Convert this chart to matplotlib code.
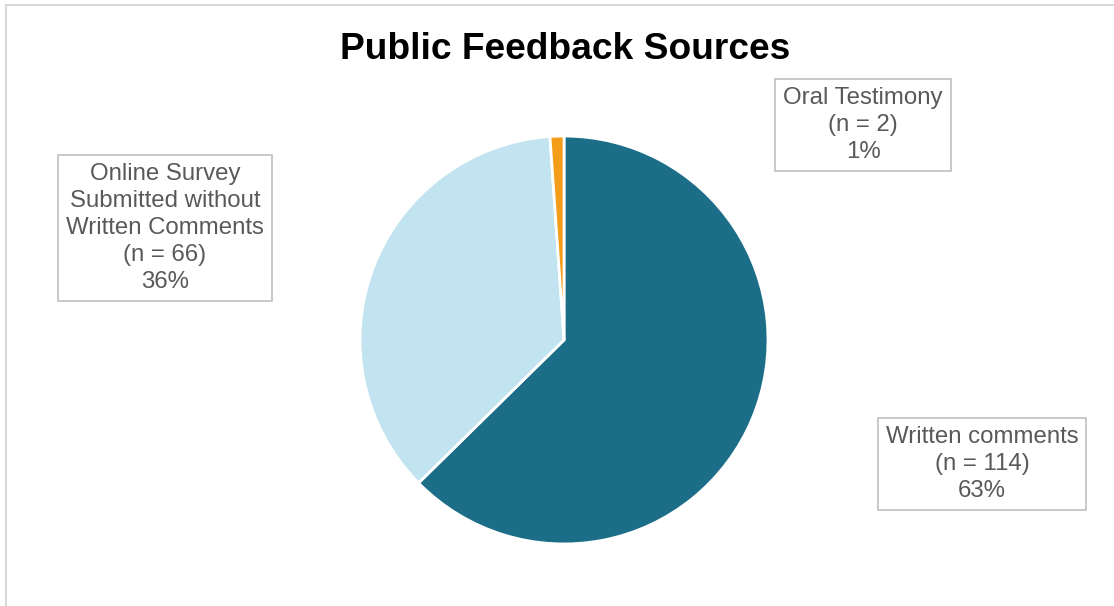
import matplotlib.pyplot as plt
from matplotlib.lines import Line2D

# Data --------------------------------------------------------------------------------------
sources = ["Written comments", "Online Survey\nSubmitted without\nWritten Comments", "Oral Testimony"]
counts = [114, 66, 2]
colors = ["#1c6d87", "#c2e4f0", "#f49d1b"]
# label positions (data coords, pie radius = 1)
label_pos = [(2.049, -0.608), (-1.956, 0.549), (1.466, 1.054)]

plt.rcParams['font.family'] = ['Liberation Sans', 'DejaVu Sans']

fig = plt.figure(figsize=(11.14, 6.06), dpi=100)
ax = fig.add_axes([0.3232, 0.1023, 0.3662, 0.6733])

ax.pie(counts,
       colors=colors,
       startangle=90,
       counterclock=False,
       radius=1,
       wedgeprops={'edgecolor': 'white', 'linewidth': 2})
ax.set_xlim(-1, 1)
ax.set_ylim(-1, 1)
ax.set_aspect('equal')
ax.axis('off')

total = sum(counts)
for name, n, (x, y) in zip(sources, counts, label_pos):
    pct = round(100 * n / total)
    ax.text(x, y, "%s\n(n = %d)\n%d%%" % (name, n, pct),
            ha='center', va='center', fontsize=17.3, color='#595959',
            linespacing=1.3, clip_on=False,
            bbox=dict(boxstyle='square,pad=0.33', facecolor='white',
                      edgecolor='#bfbfbf', linewidth=1.2))

fig.text(565 / 1114, 1 - 59 / 606, "Public Feedback Sources",
         ha='center', va='baseline', fontsize=26.7, fontweight='bold', color='black')

# chart area border (top and left edges visible)
fig.add_artist(Line2D([6 / 1114, 1], [1 - 5 / 606, 1 - 5 / 606], color='#d9d9d9', linewidth=1.5))
fig.add_artist(Line2D([6 / 1114, 6 / 1114], [0, 1 - 5 / 606], color='#d9d9d9', linewidth=1.5))

fig.savefig("out.png", dpi=100)
